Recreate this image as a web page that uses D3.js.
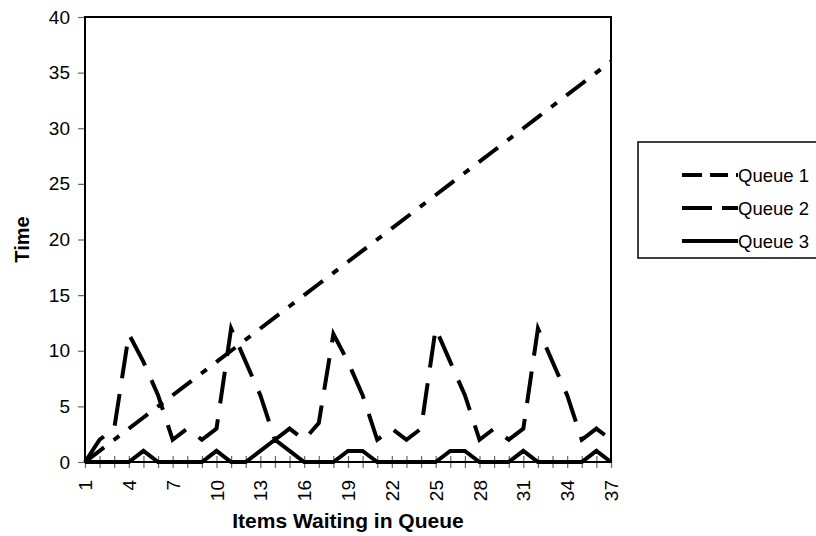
<!DOCTYPE html>
<html>
<head>
<meta charset="utf-8">
<script src="https://cdnjs.cloudflare.com/ajax/libs/d3/7.8.5/d3.min.js"></script>
<style>
  body { margin: 0; background: #fff; }
  svg { font-family: Arial, "Liberation Sans", sans-serif; }
</style>
</head>
<body>
<svg width="816" height="536"></svg>
<script>
// items waiting in queue (x categories)
var items = [1,2,3,4,5,6,7,8,9,10,11,12,13,14,15,16,17,18,19,20,21,22,23,24,25,26,27,28,29,30,31,32,33,34,35,36,37];
var xTickLabels = [1,4,7,10,13,16,19,22,25,28,31,34,37];
var yTickValues = [0,5,10,15,20,25,30,35,40];

// time values per queue
var queue1 = [0,1,2,3,4,5,6,7,8,9,10,11,12,13,14,15,16,17,18,19,20,21,22,23,24,25,26,27,28,29,30,31,32,33,34,35,36];
var queue2 = [0,2,3,11.5,9,6,2,3,2,3,12,9,6,2,3,2,3.5,11.5,9,6,2,3,2,3,12,9,6,2,3,2,3,12,9,6,2,3,2];
var queue3 = [0,0,0,0,1,0,0,0,0,1,0,0,1,2,1,0,0,0,1,1,0,0,0,0,0,1,1,0,0,0,1,0,0,0,0,1,0];

var seriesNames = ["Queue 1", "Queue 2", "Queue 3"];

drawChart();

function drawChart() {
    var svg = d3.select("svg");

    var left = 85, right = 611, top = 17, bottom = 462;

    var x = d3.scalePoint()
        .domain(items)
        .range([left, right]);

    var y = d3.scaleLinear()
        .domain([0, 40])
        .range([bottom, top]);

    var series = [
        {name: seriesNames[0], values: queue1, dash: "24,12,7,12", legendDash: "20,8,18,8,6,20"},
        {name: seriesNames[1], values: queue2, dash: "32,16", legendDash: "30,10"},
        {name: seriesNames[2], values: queue3, dash: null, legendDash: null}
    ];

    // y axis with ticks pointing out
    var yAxis = svg.append("g")
        .attr("transform", "translate(" + left + ",0)")
        .call(d3.axisLeft(y).tickValues(yTickValues).tickSize(7).tickPadding(8));
    yAxis.select(".domain").remove();
    yAxis.selectAll(".tick line").attr("stroke", "#666").attr("stroke-width", 1.2);
    yAxis.selectAll(".tick text")
        .attr("fill", "#000")
        .style("font-size", "19px");

    // x axis ticks cross the axis line
    var xAxis = svg.append("g")
        .attr("transform", "translate(0," + bottom + ")")
        .call(d3.axisBottom(x).tickSize(6).tickFormat(""));
    xAxis.select(".domain").remove();
    xAxis.selectAll(".tick line")
        .attr("y1", -6)
        .attr("y2", 6)
        .attr("stroke", "#666")
        .attr("stroke-width", 1.2);

    // rotated category labels, every third one
    svg.append("g").selectAll("text")
        .data(xTickLabels)
        .enter().append("text")
        .attr("transform", function(d) { return "translate(" + (x(d) + 7) + "," + (bottom + 18) + ") rotate(-90)"; })
        .attr("text-anchor", "end")
        .style("font-size", "19px")
        .text(function(d) { return d; });

    // plot frame
    svg.append("rect")
        .attr("x", left)
        .attr("y", top)
        .attr("width", right - left)
        .attr("height", bottom - top)
        .attr("fill", "none")
        .attr("stroke", "#000")
        .attr("stroke-width", 2);

    var line = d3.line()
        .x(function(d, i) { return x(items[i]); })
        .y(function(d) { return y(d); });

    svg.append("g").selectAll("path")
        .data(series)
        .enter().append("path")
        .attr("d", function(d) { return line(d.values); })
        .attr("fill", "none")
        .attr("stroke", "#000")
        .attr("stroke-width", 4)
        .attr("stroke-linejoin", "miter")
        .attr("stroke-dasharray", function(d) { return d.dash; });

    // axis titles
    svg.append("text")
        .attr("x", (left + right) / 2)
        .attr("y", 528)
        .attr("text-anchor", "middle")
        .style("font-size", "21px")
        .style("font-weight", "bold")
        .text("Items Waiting in Queue");

    svg.append("text")
        .attr("transform", "translate(29," + ((top + bottom) / 2) + ") rotate(-90)")
        .attr("text-anchor", "middle")
        .style("font-size", "20px")
        .style("font-weight", "bold")
        .text("Time");

    // legend
    var legend = svg.append("g");
    legend.append("rect")
        .attr("x", 638)
        .attr("y", 142)
        .attr("width", 200)
        .attr("height", 116)
        .attr("fill", "#fff")
        .attr("stroke", "#000")
        .attr("stroke-width", 1.5);

    var entry = legend.selectAll("g.entry")
        .data(series)
        .enter().append("g")
        .attr("class", "entry")
        .attr("transform", function(d, i) { return "translate(0," + (175 + i * 33) + ")"; });

    entry.append("line")
        .attr("x1", 682)
        .attr("x2", 738)
        .attr("stroke", "#000")
        .attr("stroke-width", 4)
        .attr("stroke-dasharray", function(d) { return d.legendDash; });

    entry.append("text")
        .attr("x", 738)
        .attr("dy", "0.36em")
        .style("font-size", "18.5px")
        .text(function(d) { return d.name; });
}
</script>
</body>
</html>
